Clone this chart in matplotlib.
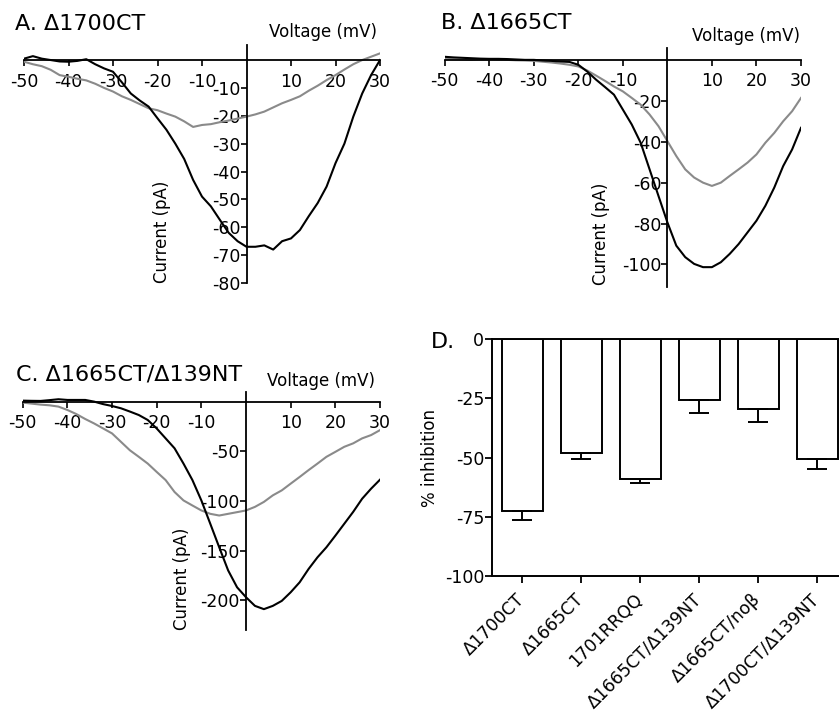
import matplotlib
matplotlib.use('Agg')
import matplotlib.pyplot as plt

plt.rcParams['font.family'] = ['DejaVu Sans']
plt.rcParams['axes.unicode_minus'] = False

# voltage steps (mV) shared by the I-V traces
voltage = list(range(-50, 31, 2))

# A. d1700CT  (pA)
a_black = [0.5, 1.4, 0.5, 0, -0.5, -0.6, -0.3, 0.3, -1.5, -3, -4.2, -8, -12, -14.5, -16.7,
           -20.9, -25, -30, -35.5, -43, -49, -52.5, -57.3, -62, -65, -67, -67, -66.5, -68,
           -65, -64, -61, -56, -51.3, -45.4, -37, -30, -20.3, -12, -5.4, 0]
a_gray = [-0.6, -1.5, -2.2, -3.5, -5.4, -6, -6.7, -7.3, -8.5, -10, -11.3, -13, -14.3, -15.8,
          -17.3, -18, -19.2, -20.3, -22, -24, -23.3, -23, -22.3, -21.7, -21, -20.3, -19.5,
          -18.5, -17, -15.5, -14.3, -13, -11, -9.2, -7.2, -5.4, -3.4, -1.5, 0, 1.2, 2.4]

# B. d1665CT
b_black = [1.5, 1.2, 1.0, 0.8, 0.6, 0.5, 0.5, 0.4, 0.2, 0, 0, -0.3, -0.5, -0.8, -1, -2.4,
           -5.7, -9.7, -13.3, -17, -24.3, -31.6, -40.5, -53.5, -66.5, -79.4, -90.8, -96.4,
           -99.7, -101.3, -101.3, -98.9, -94.8, -90, -84.3, -78.6, -71.3, -62.4, -51.9,
           -43.8, -33.2]
b_gray = [0.5, 0.3, 0.2, 0, 0.2, 0.3, 0.1, 0, -0.2, -0.3, -0.5, -0.9, -1.3, -1.8, -2.4, -3.2,
          -5.2, -7.7, -10.3, -13, -15.4, -18.6, -21.9, -26.7, -32.4, -39.7, -47, -53.5, -57.5,
          -60, -61.6, -60, -56.7, -53.5, -50.2, -46.2, -40.5, -35.7, -30, -25.1, -18.6]

# C. d1665CT/d139NT
c_black = [1, 0.8, 0.7, 1.5, 2.4, 1.7, 1.7, 1.7, 0, -2.5, -4.4, -6.7, -10, -13.5, -18.5, -27,
           -37, -47, -62.4, -79, -99.5, -123, -146.7, -170, -187, -197, -205.7, -209, -205.7,
           -200.7, -192, -182, -168.6, -156.8, -146.7, -135, -123, -111, -97.8, -87.7, -78.6]
c_gray = [-1, -2, -3, -3.7, -5, -8.4, -12.5, -17.5, -22, -27, -32, -40.5, -49, -55.6, -62.4,
          -70.8, -79, -91, -99.5, -104.6, -109.6, -113, -114.7, -113, -111.3, -109.6, -106,
          -101, -94.4, -89.4, -82.6, -75.9, -69, -62.4, -55.6, -50.6, -45.5, -42, -37, -33.7,
          -28.7]

# D. % inhibition
constructs = ['\u03941700CT', '\u03941665CT', '1701RRQQ', '\u03941665CT/\u0394139NT',
              '\u03941665CT/no\u03b2', '\u03941700CT/\u0394139NT']
inhibition = [-72.7, -48.1, -59.0, -25.5, -29.5, -50.4]
inhibition_err = [3.5, 2.4, 1.5, 5.7, 5.5, 4.6]

GRAY = '#8a8a8a'
TICK_FS = 12.5
TITLE_FS = 16

fig = plt.figure(figsize=(8.39, 7.12), dpi=100)


def iv_panel(rect, black, gray, ylim, yticks):
    ax = fig.add_axes(rect)
    ax.plot(voltage, gray, color=GRAY, lw=1.5)
    ax.plot(voltage, black, color='black', lw=1.5)
    ax.set_xlim(-50, 30)
    ax.set_ylim(*ylim)
    ax.spines['left'].set_position(('data', 0))
    ax.spines['bottom'].set_position(('data', 0))
    ax.spines['top'].set_visible(False)
    ax.spines['right'].set_visible(False)
    for s in ('left', 'bottom'):
        ax.spines[s].set_linewidth(1.3)
    ax.set_xticks([-50, -40, -30, -20, -10, 10, 20, 30])
    ax.set_yticks(yticks)
    ax.tick_params(axis='x', direction='out', length=4, width=1.2, labelsize=TICK_FS, pad=5)
    ax.tick_params(axis='y', direction='out', length=4, width=1.2, labelsize=TICK_FS, pad=0.5)
    ax.patch.set_visible(False)
    return ax


W, H = 839, 712


def ftext(x, y, s, **kw):
    fig.text(x / W, 1 - y / H, s, **kw)


# A
iv_panel([24 / W, 1 - 283 / H, 356 / W, 238 / H], a_black, a_gray,
         (-80, 5.4), [-10, -20, -30, -40, -50, -60, -70, -80])
ftext(15, 24, 'A. \u03941700CT', fontsize=TITLE_FS, va='center')
ftext(323, 32, 'Voltage (mV)', fontsize=12, ha='center', va='center')
ftext(162, 232, 'Current (pA)', fontsize=12, ha='center', va='center', rotation=90)

# B
iv_panel([444.7 / W, 1 - 287 / H, 356.3 / W, 239 / H], b_black, b_gray,
         (-111, 5.8), [-20, -40, -60, -80, -100])
ftext(441, 23, 'B. \u03941665CT', fontsize=TITLE_FS, va='center')
ftext(746, 36, 'Voltage (mV)', fontsize=12, ha='center', va='center')
ftext(601, 234, 'Current (pA)', fontsize=12, ha='center', va='center', rotation=90)

# C
iv_panel([22.7 / W, 1 - 630 / H, 357.3 / W, 238.3 / H], c_black, c_gray,
         (-230, 10), [-50, -100, -150, -200])
ftext(16, 374, 'C. \u03941665CT/\u0394139NT', fontsize=TITLE_FS, va='center')
ftext(321, 381, 'Voltage (mV)', fontsize=12, ha='center', va='center')
ftext(182, 579, 'Current (pA)', fontsize=12, ha='center', va='center', rotation=90)

# D
ax_d = fig.add_axes([491.7 / W, 1 - 576 / H, 347.3 / W, 236.7 / H])
pos = list(range(len(constructs)))
ax_d.bar(pos, inhibition, width=0.69, color='white', edgecolor='black', lw=1.4, zorder=2)
ax_d.errorbar(pos, inhibition, yerr=[inhibition_err, [0] * len(pos)], fmt='none',
              ecolor='black', elinewidth=1.4, capsize=7.5, capthick=1.4, zorder=3)
ax_d.set_xlim(-0.52, 5.37)
ax_d.set_ylim(-100, 0)
ax_d.set_yticks([0, -25, -50, -75, -100])
ax_d.set_xticks(pos)
ax_d.set_xticklabels(constructs, rotation=45, ha='right', va='center', rotation_mode='anchor')
ax_d.spines['right'].set_visible(False)
for s in ('left', 'bottom', 'top'):
    ax_d.spines[s].set_linewidth(1.4)
ax_d.tick_params(axis='both', direction='out', length=5, width=1.3, labelsize=TICK_FS)
ax_d.tick_params(axis='y', pad=0.5)
ax_d.tick_params(axis='x', pad=10)
ax_d.set_ylabel('% inhibition', fontsize=12, labelpad=4)
ftext(431, 342, 'D.', fontsize=TITLE_FS, va='center')

fig.savefig('out.png', dpi=100)
